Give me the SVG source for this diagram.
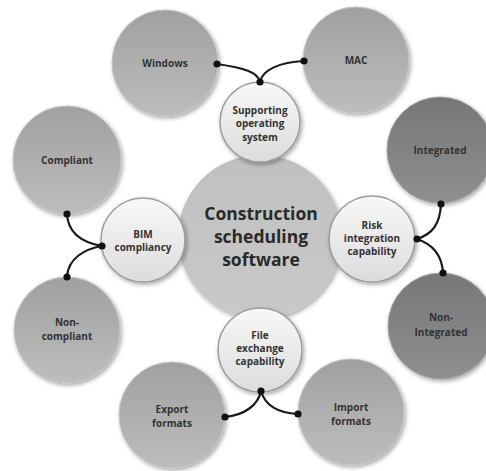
<svg xmlns="http://www.w3.org/2000/svg" width="486" height="471" viewBox="0 0 486 471">
  <defs>
    <linearGradient id="gMid" x1="0" y1="0" x2="0" y2="1">
      <stop offset="0" stop-color="#a0a0a0"/>
      <stop offset="1" stop-color="#bdbdbd"/>
    </linearGradient>
    <linearGradient id="gDark" x1="0" y1="0" x2="0" y2="1">
      <stop offset="0" stop-color="#777777"/>
      <stop offset="1" stop-color="#8f8f8f"/>
    </linearGradient>
    <linearGradient id="gHub" x1="0" y1="0" x2="0" y2="1">
      <stop offset="0" stop-color="#c0c0c0"/>
      <stop offset="1" stop-color="#c9c9c9"/>
    </linearGradient>
    <linearGradient id="gLight" x1="0" y1="0" x2="0" y2="1">
      <stop offset="0" stop-color="#f8f8f8"/>
      <stop offset="1" stop-color="#dcdcdc"/>
    </linearGradient>
    <filter id="shadow" x="-20%" y="-20%" width="150%" height="150%">
      <feDropShadow dx="1.5" dy="2" stdDeviation="2" flood-color="#000" flood-opacity="0.35"/>
    </filter>
  </defs>
  <style>
    .outer { fill: url(#gMid); stroke: #c4c4c4; stroke-width: 1; filter: url(#shadow); }
    .dark { fill: url(#gDark); stroke: #a0a0a0; stroke-width: 1; filter: url(#shadow); }
    .hub { fill: url(#gHub); filter: url(#shadow); }
    .inner { fill: url(#gLight); stroke: #9c9c9c; stroke-width: 1.5; filter: url(#shadow); }
    text { font-family: "Open Sans", "Liberation Sans", sans-serif; font-weight: bold; fill: #333333; text-anchor: middle; }
    .lbl { font-size: 10px; }
    .big { font-size: 17.5px; font-weight: bold; fill: #2a2a2a; }
    .wire { fill: none; stroke: #1a1a1a; stroke-width: 2.2; stroke-linecap: round; }
    .dot { fill: #111111; }
  </style>

  <!-- leaf options -->
  <g id="windows"><circle class="outer" cx="165" cy="63" r="53"/><text class="lbl" x="165" y="67">Windows</text></g>
  <g id="mac"><circle class="outer" cx="356" cy="60" r="53"/><text class="lbl" x="356" y="64">MAC</text></g>
  <g id="integrated"><circle class="dark" cx="440" cy="150" r="53"/><text class="lbl" x="440" y="154">Integrated</text></g>
  <g id="non-integrated"><circle class="dark" cx="441" cy="326" r="53"/><text class="lbl" x="441" y="321">Non-</text><text class="lbl" x="441" y="336">Integrated</text></g>
  <g id="compliant"><circle class="outer" cx="67" cy="160" r="54"/><text class="lbl" x="67" y="164">Compliant</text></g>
  <g id="non-compliant"><circle class="outer" cx="67" cy="330" r="53"/><text class="lbl" x="67" y="326">Non-</text><text class="lbl" x="67" y="340">compliant</text></g>
  <g id="export"><circle class="outer" cx="172" cy="415" r="53"/><text class="lbl" x="172" y="413">Export</text><text class="lbl" x="172" y="427">formats</text></g>
  <g id="import"><circle class="outer" cx="351" cy="412" r="53"/><text class="lbl" x="351" y="411">Import</text><text class="lbl" x="351" y="425">formats</text></g>

  <!-- branching connectors -->
  <g id="connectors">
    <path class="wire" d="M217,64 C244,68 258,72 260,82"/>
    <path class="wire" d="M260,82 C262,70 280,62 304,61"/>
    <path class="wire" d="M417,239 C432,234 440,225 441,204"/>
    <path class="wire" d="M417,239 C432,244 442,255 443,273"/>
    <path class="wire" d="M102,246 C85,243 68,235 67,214"/>
    <path class="wire" d="M102,246 C85,249 68,258 67,277"/>
    <path class="wire" d="M261,391 C258,405 245,415 225,417"/>
    <path class="wire" d="M261,391 C265,405 278,413 298,414"/>
  </g>

  <!-- central topic -->
  <g id="hub">
    <circle class="hub" cx="260" cy="237" r="82"/>
    <text class="big" x="261" y="220">Construction</text>
    <text class="big" x="261" y="243">scheduling</text>
    <text class="big" x="261" y="266">software</text>
  </g>

  <!-- categories -->
  <g id="supporting-os"><circle class="inner" cx="260" cy="122" r="40"/><text class="lbl" x="260" y="114">Supporting</text><text class="lbl" x="260" y="127">operating</text><text class="lbl" x="260" y="141">system</text></g>
  <g id="risk"><circle class="inner" cx="372" cy="239" r="43"/><text class="lbl" x="372" y="229">Risk</text><text class="lbl" x="372" y="242">integration</text><text class="lbl" x="372" y="255">capability</text></g>
  <g id="bim"><circle class="inner" cx="143" cy="240" r="42"/><text class="lbl" x="143" y="238">BIM</text><text class="lbl" x="143" y="251">compliancy</text></g>
  <g id="file-exchange"><circle class="inner" cx="260" cy="350" r="42"/><text class="lbl" x="260" y="339">File</text><text class="lbl" x="260" y="352">exchange</text><text class="lbl" x="260" y="365">capability</text></g>

  <!-- connector end points -->
  <g id="joints">
    <circle class="dot" cx="217" cy="64" r="3.6"/>
    <circle class="dot" cx="260" cy="82" r="3.6"/>
    <circle class="dot" cx="304" cy="61" r="3.6"/>
    <circle class="dot" cx="417" cy="239" r="3.6"/>
    <circle class="dot" cx="441" cy="204" r="3.6"/>
    <circle class="dot" cx="443" cy="273" r="3.6"/>
    <circle class="dot" cx="102" cy="246" r="3.6"/>
    <circle class="dot" cx="67" cy="214" r="3.6"/>
    <circle class="dot" cx="67" cy="277" r="3.6"/>
    <circle class="dot" cx="261" cy="391" r="3.6"/>
    <circle class="dot" cx="225" cy="417" r="3.6"/>
    <circle class="dot" cx="298" cy="414" r="3.6"/>
  </g>
</svg>
